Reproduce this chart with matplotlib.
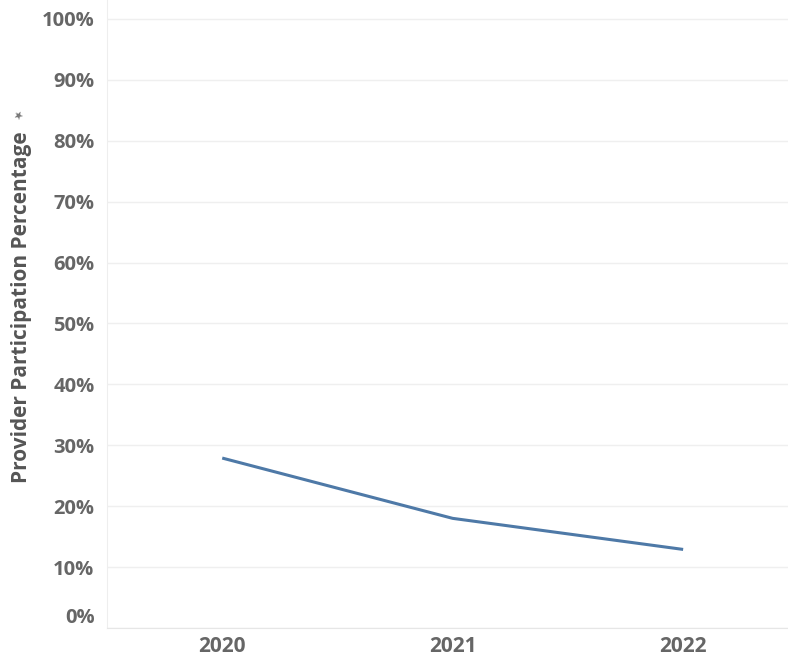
import matplotlib.pyplot as plt
from matplotlib.ticker import FuncFormatter

years = ['2020', '2021', '2022']
participation = [27.9, 18.0, 12.9]
y_ticks = [0, 10, 20, 30, 40, 50, 60, 70, 80, 90, 100]

plt.rcParams['font.family'] = ['Open Sans', 'DejaVu Sans']
text_color = '#666666'

fig = plt.figure(figsize=(7.88, 6.59), dpi=100)
ax = fig.add_axes([107 / 788, 31 / 659, 681 / 788, 628 / 659])

x = list(range(len(years)))
ax.plot(x, participation, color='#4E79A7', linewidth=2.2, solid_capstyle='butt')

ax.set_xlim(-0.5, 2.455)
ax.set_ylim(0, 103.1)
ax.set_xticks(x)
ax.set_xticklabels(years, fontsize=15, fontweight='bold', color=text_color)
ax.set_yticks(y_ticks)
ax.yaxis.set_major_formatter(FuncFormatter(lambda v, p: f'{v:.0f}%'))
for lbl in ax.get_yticklabels():
    lbl.set_fontsize(14.5)
    lbl.set_fontweight('bold')
    lbl.set_color(text_color)
ax.get_yticklabels()[0].set_va('bottom')
ax.tick_params(axis='both', length=0)
ax.tick_params(axis='y', pad=9)
ax.tick_params(axis='x', pad=6)

ax.grid(axis='y', color='#efefef', linewidth=1)
ax.set_axisbelow(True)
for side in ['top', 'right']:
    ax.spines[side].set_visible(False)
ax.spines['left'].set_color('#eeeeee')
ax.spines['bottom'].set_color('#e6e6e6')

fig.text(22 / 788, 1 - 307 / 659, 'Provider Participation Percentage', rotation=90,
         ha='center', va='center', fontsize=15, fontweight='bold', color='#555555')
# small pin marker beside the axis title
fig.text(20 / 788, 1 - 116 / 659, '\u2605', rotation=45, ha='center', va='center',
         fontsize=8, color='#777777', family='DejaVu Sans')

fig.savefig('out.png', dpi=100)
